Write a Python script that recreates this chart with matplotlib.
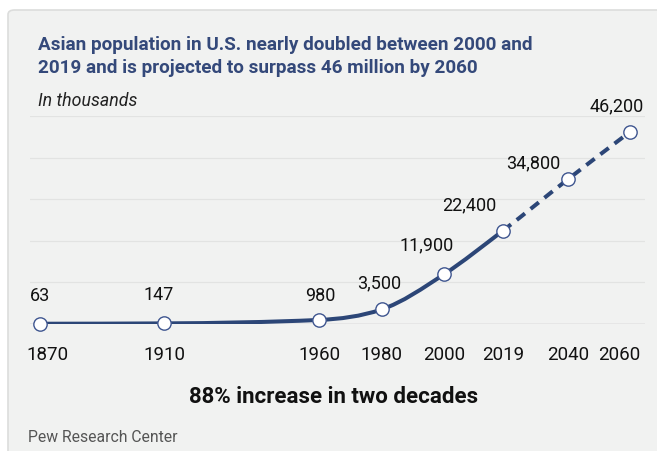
import numpy as np
import matplotlib.pyplot as plt
from matplotlib.path import Path
from matplotlib.patches import PathPatch, FancyBboxPatch
from matplotlib.transforms import ScaledTranslation

plt.rcParams['font.family'] = ['Roboto', 'DejaVu Sans']

# data (in thousands)
years = [1870, 1910, 1960, 1980, 2000, 2019, 2040, 2060]
population = [63, 147, 980, 3500, 11900, 22400, 34800, 46200]
value_labels = ["63", "147", "980", "3,500", "11,900", "22,400", "34,800", "46,200"]
last_actual = 2019
grid_values = [0, 10000, 20000, 30000, 40000, 50000]

# label offsets in pixels (dx, dy) relative to each marker
label_offsets = [(0, 28), (-6, 28), (1, 24), (-2, 26), (-17, 29), (-33, 25), (-35, 16), (-13, 25)]

NAVY = "#2c4677"
TITLE = "#34497a"


def monotone_slopes(xs, ys):
    # same as d3 curveMonotoneX
    xs = np.asarray(xs, float)
    ys = np.asarray(ys, float)
    h = np.diff(xs)
    s = np.diff(ys) / h
    n = len(xs)
    t = np.zeros(n)
    for i in range(1, n - 1):
        p = (s[i - 1] * h[i] + s[i] * h[i - 1]) / (h[i - 1] + h[i])
        t[i] = (np.sign(s[i - 1]) + np.sign(s[i])) * min(abs(s[i - 1]), abs(s[i]), 0.5 * abs(p))
    t[0] = (3 * s[0] - t[1]) / 2
    t[-1] = (3 * s[-1] - t[-2]) / 2
    return t


def curve_path(xs, ys, t, i0, i1):
    verts = [(xs[i0], ys[i0])]
    codes = [Path.MOVETO]
    for i in range(i0, i1):
        dx = (xs[i + 1] - xs[i]) / 3
        verts += [(xs[i] + dx, ys[i] + dx * t[i]),
                  (xs[i + 1] - dx, ys[i + 1] - dx * t[i + 1]),
                  (xs[i + 1], ys[i + 1])]
        codes += [Path.CURVE4] * 3
    return Path(verts, codes)


fig = plt.figure(figsize=(6.57, 4.51), dpi=100)

# grey panel
panel = FancyBboxPatch((8 / 657, -0.1), 1.0, 441 / 451 + 0.1,
                       boxstyle="round,pad=0,rounding_size=0.01",
                       transform=fig.transFigure, facecolor="#f1f2f1",
                       edgecolor="#dcdddc", linewidth=1.2, zorder=-10)
fig.patches.append(panel)

ax = fig.add_axes([30 / 657, (451 - 324) / 451, 615 / 657, 208 / 451])
ax.set_facecolor("none")
ax.set_xlim(1866.8, 2064.8)
ax.set_ylim(0, 50000)

for g in grid_values[1:]:
    ax.axhline(g, color="#e2e3e2", lw=0.9, zorder=1)
ax.axhline(0, color="#9a9a9a", lw=0.9, zorder=1)

t = monotone_slopes(years, population)
split = years.index(last_actual)
solid = PathPatch(curve_path(years, population, t, 0, split), fill=False,
                  edgecolor=NAVY, lw=2.9, capstyle="butt", zorder=3)
dashed = PathPatch(curve_path(years, population, t, split, len(years) - 1), fill=False,
                   edgecolor=NAVY, lw=2.9, linestyle=(0, (2.6, 1.8)), capstyle="butt", zorder=3)
ax.add_patch(solid)
ax.add_patch(dashed)

ax.plot(years, population, "o", ms=9.6, mfc="white", mec="#3f5690", mew=1.0,
        clip_on=False, zorder=5)

for x, y, lab, (dx, dy) in zip(years, population, value_labels, label_offsets):
    ax.annotate(lab, (x, y), xytext=(dx * 0.72, dy * 0.72), textcoords="offset points",
                ha="center", va="center", fontsize=13, color="#111111", zorder=6)

ax.set_xticks(years)
ax.set_xticklabels([str(y) for y in years], fontsize=13.5, color="#111111")
ax.tick_params(axis="x", length=0, pad=16)
ax.set_yticks([])
for sp in ax.spines.values():
    sp.set_visible(False)

# end labels are pulled inside the plot area
ticklabels = ax.get_xticklabels()
ticklabels[0].set_transform(ticklabels[0].get_transform() + ScaledTranslation(0.08, 0, fig.dpi_scale_trans))
ticklabels[-1].set_transform(ticklabels[-1].get_transform() + ScaledTranslation(-0.11, 0, fig.dpi_scale_trans))

fig.text(38 / 657, 1 - 45 / 451, "Asian population in U.S. nearly doubled between 2000 and",
         fontsize=13.6, fontweight="bold", color=TITLE, va="center", ha="left")
fig.text(38 / 657, 1 - 68 / 451, "2019 and is projected to surpass 46 million by 2060",
         fontsize=13.6, fontweight="bold", color=TITLE, va="center", ha="left")
fig.text(38 / 657, 1 - 101 / 451, "In thousands", fontsize=12.8, style="italic",
         color="#222222", va="center", ha="left")
fig.text(334 / 657, 1 - 397 / 451, "88% increase in two decades", fontsize=16,
         fontweight="bold", color="#111111", va="center", ha="center")
fig.text(28 / 657, 1 - 437 / 451, "Pew Research Center", fontsize=11.3,
         color="#555555", va="center", ha="left")

plt.savefig("out.png", dpi=100)
